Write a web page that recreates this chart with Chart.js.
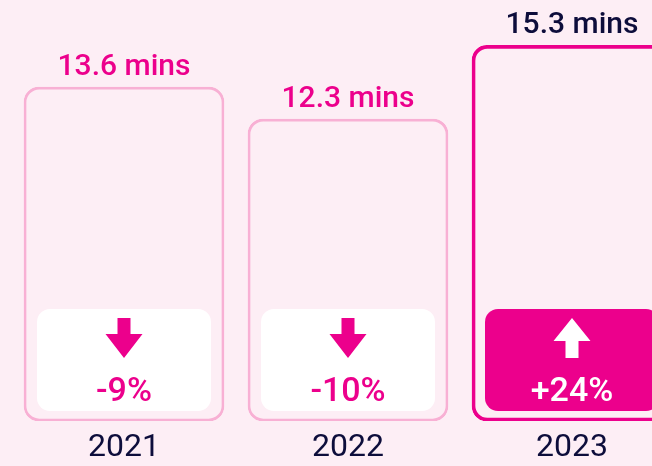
<!DOCTYPE html>
<html><head><meta charset="utf-8">
<script src="https://cdn.jsdelivr.net/npm/chart.js@4.4.1/dist/chart.umd.min.js"></script>
<style>
html,body{margin:0;padding:0;background:#fdeef5;overflow:hidden;width:652px;height:466px}
#wrap{position:relative;width:696px;height:466px}
</style></head><body>
<div id="wrap"><canvas id="c"></canvas></div>
<script>
const years = ['2021', '2022', '2023'];
const minutes = [13.6, 12.3, 15.3];
const changes = [-9, -10, 24];
const unit = 'mins';

const PINK = '#ec008c', LIGHT = '#f8b0d4', NAVY = '#0d0d3b';
const hi = years.length - 1;

const overlay = {
  id: 'overlay',
  afterDatasetsDraw(chart) {
    const ctx = chart.ctx;
    const meta = chart.getDatasetMeta(0);
    const base = chart.scales.y.getPixelForValue(0);
    meta.data.forEach((bar, i) => {
      const x = bar.x, top = bar.y;
      const isHi = i === hi;
      ctx.save();
      ctx.textAlign = 'center';
      ctx.textBaseline = 'alphabetic';
      ctx.font = '500 30px Roboto';
      ctx.fillStyle = isHi ? NAVY : PINK;
      ctx.fillText(minutes[i].toFixed(1) + ' ' + unit, x, top - 12);
      const bw = 174, bh = 102;
      const bx = x - bw / 2, by = base - 10 - bh;
      ctx.beginPath();
      ctx.roundRect(bx, by, bw, bh, 13);
      ctx.fillStyle = isHi ? PINK : '#ffffff';
      ctx.fill();
      ctx.fillStyle = isHi ? '#ffffff' : PINK;
      const at = by + 9, ab = by + 49, hw = 18.5, sw = 6.5;
      ctx.beginPath();
      if (changes[i] < 0) {
        const hy = ab - 24;
        ctx.moveTo(x - sw, at); ctx.lineTo(x + sw, at); ctx.lineTo(x + sw, hy);
        ctx.lineTo(x + hw, hy); ctx.lineTo(x, ab); ctx.lineTo(x - hw, hy); ctx.lineTo(x - sw, hy);
      } else {
        const hy = at + 23;
        ctx.moveTo(x, at); ctx.lineTo(x + hw, hy); ctx.lineTo(x + sw, hy); ctx.lineTo(x + sw, ab);
        ctx.lineTo(x - sw, ab); ctx.lineTo(x - sw, hy); ctx.lineTo(x - hw, hy);
      }
      ctx.closePath();
      ctx.fill();
      ctx.font = '500 34px Roboto';
      ctx.fillText((changes[i] > 0 ? '+' : '') + changes[i] + '%', x, base - 20);
      ctx.restore();
    });
  }
};

new Chart(document.getElementById('c'), {
  type: 'bar',
  data: {
    labels: years,
    datasets: [{
      data: minutes,
      backgroundColor: 'rgba(0,0,0,0)',
      borderColor: years.map((_, i) => i === hi ? PINK : LIGHT),
      borderWidth: years.map((_, i) => i === hi ? 3 : 2),
      borderRadius: 15,
      borderSkipped: false,
      barThickness: 200
    }]
  },
  options: {
    responsive: true,
    maintainAspectRatio: false,
    animation: false,
    layout: { padding: { left: 12, right: 12, top: 0, bottom: 0 } },
    plugins: { legend: { display: false }, tooltip: { enabled: false } },
    scales: {
      x: {
        grid: { display: false, drawTicks: false },
        border: { display: false },
        ticks: { color: NAVY, padding: 8, font: { family: 'Roboto', size: 32, weight: '400' } },
        afterFit(scale) { scale.height = 45; }
      },
      y: { display: false, min: 0, max: 17.15 }
    }
  },
  plugins: [overlay]
});
</script>
</body></html>
